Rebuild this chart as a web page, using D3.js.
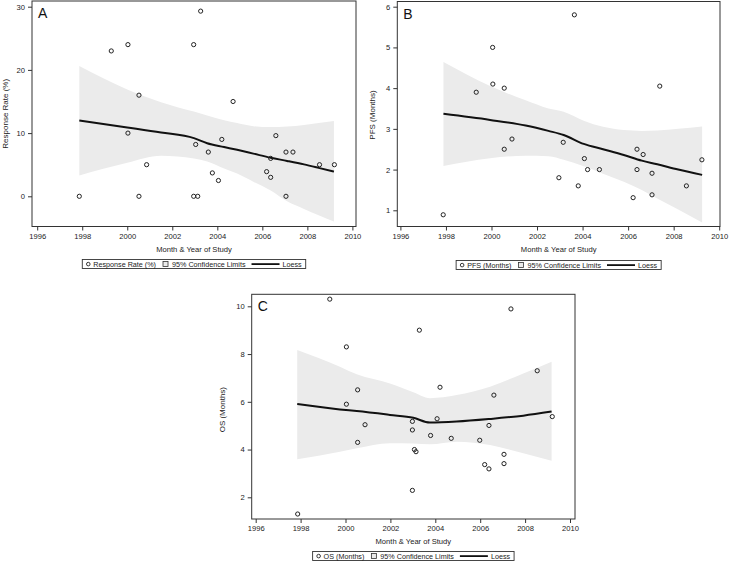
<!DOCTYPE html>
<html>
<head>
<meta charset="utf-8">
<script src="https://cdn.jsdelivr.net/npm/d3@7"></script>
<style>
  html, body { margin: 0; padding: 0; background: #fff; }
  svg { display: block; font-family: "Liberation Sans", Arial, sans-serif; }
</style>
</head>
<body>
<svg id="chart" width="729" height="563"></svg>
<script>
// ---------------- DATA ----------------
const xTicks = [1996, 1998, 2000, 2002, 2004, 2006, 2008, 2010];

// Panel A: Response Rate (%)
const yearsA = [1997.87, 1999.29, 2000.03, 2000.03, 2000.52, 2000.52, 2000.86, 2002.95, 2003.26, 2003.04,
  2002.95, 2003.13, 2003.60, 2003.78, 2004.05, 2004.20, 2004.70, 2006.19, 2006.37, 2006.37,
  2006.60, 2007.05, 2007.05, 2007.36, 2008.54, 2009.20];
const responseRate = [0, 23, 24, 10, 16, 0, 5, 24, 29.3, 8.2,
  0, 0, 7, 3.7, 2.5, 9, 15, 3.9, 6, 3,
  9.6, 7, 0, 7, 5, 5];
const yTicksA = [0, 10, 20, 30];
const loessYearsA = [1997.87, 2000.0, 2001.5, 2002.96, 2003.55, 2004.3, 2004.88, 2005.6, 2006.37, 2007.1, 2007.85, 2008.5, 2009.18];
const loessA = [12.0, 10.9, 10.1, 9.2, 8.4, 7.8, 7.35, 6.75, 6.1, 5.6, 5.05, 4.5, 3.9];
const lowerA = [3.3, 5.3, 6.4, 6.0, 5.5, 4.4, 3.6, 2.3, 0.9, -0.8, -2.0, -3.0, -4.0];
const upperA = [20.6, 16.9, 14.9, 13.4, 12.8, 12.05, 11.6, 11.1, 10.95, 11.05, 11.3, 11.6, 11.9];

// Panel B: PFS (Months)
const yearsB = [1997.88, 1999.33, 2000.05, 2000.06, 2000.56, 2000.56, 2000.90, 2002.96, 2003.15, 2003.64,
  2003.81, 2004.08, 2004.22, 2004.74, 2006.22, 2006.39, 2006.39, 2006.66, 2007.05, 2007.05,
  2007.39, 2008.56, 2009.24];
const pfs = [0.89, 3.9, 5.0, 4.1, 4.0, 2.5, 2.75, 1.8, 2.67, 5.8,
  1.6, 2.27, 2.0, 2.0, 1.31, 2.5, 2.0, 2.37, 1.91, 1.38,
  4.05, 1.6, 2.24];
const yTicksB = [1, 2, 3, 4, 5, 6];
const loessYearsB = [1997.89, 1999.94, 2001.5, 2002.5, 2003.17, 2004.05, 2004.9, 2005.81, 2006.6, 2007.28, 2008.2, 2009.25];
const loessB = [3.37, 3.22, 3.08, 2.95, 2.85, 2.63, 2.5, 2.36, 2.22, 2.13, 2.0, 1.87];
const lowerB = [2.09, 2.28, 2.34, 2.33, 2.24, 2.08, 1.9, 1.70, 1.5, 1.29, 1.02, 0.70];
const upperB = [4.64, 4.05, 3.7, 3.5, 3.42, 3.2, 3.05, 2.97, 2.95, 2.96, 3.0, 3.06];

// Panel C: OS (Months)
const yearsC = [1997.87, 1999.30, 2000.04, 2000.04, 2000.54, 2000.54, 2000.87, 2002.98, 2002.98, 2002.98,
  2003.07, 2003.14, 2003.29, 2003.79, 2004.08, 2004.21, 2004.71, 2005.98, 2006.20, 2006.39,
  2006.39, 2006.61, 2007.06, 2007.06, 2007.37, 2008.54, 2009.21];
const os = [1.3, 10.3, 8.3, 5.9, 6.5, 4.3, 5.04, 5.18, 4.82, 2.29,
  4.0, 3.91, 9.0, 4.59, 5.29, 6.61, 4.47, 4.39, 3.37, 5.01,
  3.19, 6.28, 3.8, 3.41, 9.89, 7.3, 5.38];
const yTicksC = [2, 4, 6, 8, 10];
const loessYearsC = [1997.85, 1999.75, 2000.5, 2001.98, 2003.02, 2003.76, 2004.95, 2006.44, 2007.92, 2009.18];
const loessC = [5.91, 5.68, 5.61, 5.45, 5.33, 5.13, 5.17, 5.28, 5.42, 5.59];
const lowerC = [3.59, 3.91, 4.05, 4.26, 4.25, 4.22, 4.33, 4.19, 3.84, 3.53];
const upperC = [8.17, 7.47, 7.15, 6.77, 6.4, 6.15, 6.28, 6.63, 7.19, 7.68];

// ---------------- DRAW ----------------
const svg = d3.select("#chart");
const FONT = "Liberation Sans, Arial, sans-serif";
const INK = "#222";

function drawPanel(cfg) {
  const g = svg.append("g");
  const x = d3.scaleLinear().domain([1996, 2010]).range([cfg.x0, cfg.x1]);
  const y = d3.scaleLinear().domain(cfg.yDomain).range(cfg.yRange);

  // band
  const bandData = cfg.loessYears.map((yr, i) => ({ yr, lo: cfg.lower[i], hi: cfg.upper[i] }));
  const area = d3.area().curve(d3.curveMonotoneX)
    .x(d => x(d.yr)).y0(d => y(d.lo)).y1(d => y(d.hi));
  g.append("path").datum(bandData).attr("d", area).attr("fill", "#ebebeb").attr("stroke", "none");

  // loess line
  const line = d3.line().curve(d3.curveMonotoneX).x(d => x(d.yr)).y(d => y(d.v));
  g.append("path").datum(cfg.loessYears.map((yr, i) => ({ yr, v: cfg.loess[i] })))
    .attr("d", line).attr("fill", "none").attr("stroke", "#111").attr("stroke-width", 2);

  // points
  g.selectAll("circle.pt").data(cfg.years.map((yr, i) => ({ yr, v: cfg.values[i] })))
    .enter().append("circle").attr("class", "pt")
    .attr("cx", d => x(d.yr)).attr("cy", d => y(d.v)).attr("r", 2.1)
    .attr("fill", "none").attr("stroke", "#222").attr("stroke-width", 1);

  // frame
  g.append("rect").attr("x", cfg.left).attr("y", cfg.top)
    .attr("width", cfg.right - cfg.left).attr("height", cfg.bottom - cfg.top)
    .attr("fill", "none").attr("stroke", "#333").attr("stroke-width", 1);

  // x axis
  const xAxis = d3.axisBottom(x).tickValues(xTicks).tickFormat(d3.format("d")).tickSize(4).tickPadding(3);
  const xa = g.append("g").attr("transform", `translate(0,${cfg.bottom})`).call(xAxis);
  xa.select(".domain").remove();
  xa.selectAll("line").attr("stroke", "#333");
  xa.selectAll("text").attr("font-family", FONT).attr("font-size", 7.6).attr("fill", INK);

  // y axis
  const yAxis = d3.axisLeft(y).tickValues(cfg.yTicks).tickFormat(d3.format("d")).tickSize(4).tickPadding(3);
  const ya = g.append("g").attr("transform", `translate(${cfg.left},0)`).call(yAxis);
  ya.select(".domain").remove();
  ya.selectAll("line").attr("stroke", "#333");
  ya.selectAll("text").attr("font-family", FONT).attr("font-size", 7.6).attr("fill", INK);

  // panel letter
  g.append("text").attr("x", cfg.left + 6).attr("y", cfg.top + 17)
    .attr("font-family", FONT).attr("font-size", 14).attr("fill", "#111").text(cfg.letter);

  // axis titles
  const cx = (cfg.left + cfg.right) / 2;
  g.append("text").attr("x", cx).attr("y", cfg.bottom + 25).attr("text-anchor", "middle")
    .attr("font-family", FONT).attr("font-size", 7.6).attr("fill", INK).text("Month & Year of Study");
  const cy = (cfg.top + cfg.bottom) / 2 + cfg.yTitleDy;
  g.append("text").attr("transform", `translate(${cfg.yTitleX},${cy}) rotate(-90)`)
    .attr("text-anchor", "middle").attr("font-family", FONT).attr("font-size", 8).attr("fill", INK)
    .text(cfg.yTitle);

  // legend
  const lg = g.append("g");
  const ly = cfg.bottom + cfg.legendDy;  // top of legend box
  const fs = 7.2;
  let cur = 0;
  const items = lg.append("g");
  items.append("circle").attr("cx", cur + 6).attr("cy", 4.6).attr("r", 1.8)
    .attr("fill", "none").attr("stroke", "#222").attr("stroke-width", 0.9);
  cur = 11;
  const t1 = items.append("text").attr("x", cur).attr("y", 7.4).attr("font-family", FONT)
    .attr("font-size", fs).attr("fill", INK).text(cfg.yTitle);
  cur += t1.node().getComputedTextLength() + 7;
  items.append("rect").attr("x", cur).attr("y", 2).attr("width", 5).attr("height", 5)
    .attr("fill", "#ebebeb").attr("stroke", "#333").attr("stroke-width", 0.8);
  cur += 9;
  const t2 = items.append("text").attr("x", cur).attr("y", 7.4).attr("font-family", FONT)
    .attr("font-size", fs).attr("fill", INK).text("95% Confidence Limits");
  cur += t2.node().getComputedTextLength() + 6;
  items.append("line").attr("x1", cur).attr("x2", cur + 28).attr("y1", 4.6).attr("y2", 4.6)
    .attr("stroke", "#111").attr("stroke-width", 1.8);
  cur += 31;
  const t3 = items.append("text").attr("x", cur).attr("y", 7.4).attr("font-family", FONT)
    .attr("font-size", fs).attr("fill", INK).text("Loess");
  cur += t3.node().getComputedTextLength() + 4;
  const w = cur;
  lg.insert("rect", ":first-child").attr("x", 0).attr("y", 0).attr("width", w).attr("height", 9)
    .attr("fill", "#fff").attr("stroke", "#333").attr("stroke-width", 0.9);
  lg.attr("transform", `translate(${cx - w / 2},${ly})`);
}

drawPanel({
  letter: "A", left: 32, top: 1, right: 356, bottom: 226.5,
  x0: 37.2, x1: 352.4, yDomain: [0, 30], yRange: [196.3, 6.7], yTicks: yTicksA,
  years: yearsA, values: responseRate,
  loessYears: loessYearsA, loess: loessA, lower: lowerA, upper: upperA,
  yTitle: "Response Rate (%)", yTitleX: 8, yTitleDy: 0, legendDy: 33
});

drawPanel({
  letter: "B", left: 397.3, top: 1.5, right: 720, bottom: 226.5,
  x0: 400.4, x1: 719.2, yDomain: [1, 6], yRange: [210.3, 6.7], yTicks: yTicksB,
  years: yearsB, values: pfs,
  loessYears: loessYearsB, loess: loessB, lower: lowerB, upper: upperB,
  yTitle: "PFS (Months)", yTitleX: 374.5, yTitleDy: 1, legendDy: 34
});

drawPanel({
  letter: "C", left: 251.7, top: 294.3, right: 575, bottom: 519,
  x0: 255.7, x1: 570, yDomain: [2, 10], yRange: [497.3, 306.3], yTicks: yTicksC,
  years: yearsC, values: os,
  loessYears: loessYearsC, loess: loessC, lower: lowerC, upper: upperC,
  yTitle: "OS (Months)", yTitleX: 224.5, yTitleDy: 3, legendDy: 32.5
});
</script>
</body>
</html>
